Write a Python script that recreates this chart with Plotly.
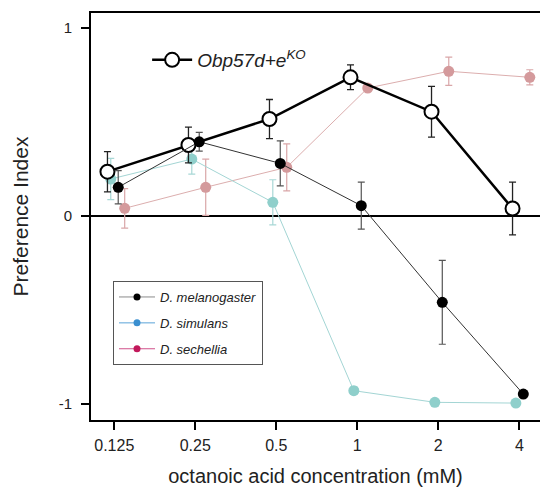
import numpy as np
import plotly.graph_objects as go

conc = [0.125, 0.25, 0.5, 1, 2, 4]
tick_labels = ["0.125", "0.25", "0.5", "1", "2", "4"]

obp = [0.236, 0.378, 0.516, 0.738, 0.555, 0.04]
obp_err = [0.107, 0.095, 0.104, 0.066, 0.135, 0.14]
mel = [0.153, 0.395, 0.28, 0.055, -0.459, -0.947]
mel_err = [0.088, 0.05, 0.12, 0.125, 0.223, 0.01]
sim = [0.197, 0.303, 0.073, -0.929, -0.991, -0.995]
sim_err = [0.11, 0.08, 0.12, 0.02, 0.01, 0.01]
sech = [0.041, 0.153, 0.259, 0.681, 0.77, 0.738]
sech_err = [0.105, 0.15, 0.125, 0.01, 0.075, 0.04]

lx = np.log2(conc)
FONT = "Liberation Sans, Arial, sans-serif"

def xs(off):
    return lx + off

fig = go.Figure()

fig.add_trace(go.Scatter(
    x=xs(0.129), y=sech, mode="lines+markers", showlegend=False,
    line=dict(color="#dcaeae", width=1),
    marker=dict(color="#d49a9c", size=11),
    error_y=dict(type="data", array=sech_err, color="#d9a6a8", thickness=1.2, width=3.5)))
fig.add_trace(go.Scatter(
    x=xs(-0.043), y=sim, mode="lines+markers", showlegend=False,
    line=dict(color="#a3d5d4", width=1),
    marker=dict(color="#8fcfcb", size=11),
    error_y=dict(type="data", array=sim_err, color="#a8d8d6", thickness=1.2, width=3.5)))
fig.add_trace(go.Scatter(
    x=xs(-0.084), y=obp, mode="lines+markers", name="<i>Obp57d+e</i><sup><i>KO</i></sup>",
    legend="legend2",
    line=dict(color="black", width=2.5),
    marker=dict(color="white", size=14, line=dict(color="black", width=2)),
    error_y=dict(type="data", array=obp_err, color="#222", thickness=1.3, width=3.5)))
fig.add_trace(go.Scatter(
    x=xs(0.049), y=mel, mode="lines+markers", showlegend=False,
    line=dict(color="#333", width=1),
    marker=dict(color="black", size=11),
    error_y=dict(type="data", array=mel_err, color="#555", thickness=1.2, width=3.5)))

for i, (name, lc, mc) in enumerate([("D. melanogaster", "#8a8a8a", "black"),
                                    ("D. simulans", "#5aa3d8", "#3a8fd0"),
                                    ("D. sechellia", "#d0508a", "#c2185b")]):
    fig.add_trace(go.Scatter(x=[None], y=[None], mode="lines+markers",
                             name="<i>" + name + "</i>", legend="legend",
                             legendgroup="g%d" % i,
                             line=dict(color=lc, width=1),
                             marker=dict(color=mc, size=7)))

fig.update_layout(
    width=540, height=487,
    margin=dict(l=91, r=0, t=13, b=67, autoexpand=False),
    paper_bgcolor="white", plot_bgcolor="white",
    font=dict(family=FONT, color="#222"),
    legend=dict(x=0.049, y=0.3415, xanchor="left", yanchor="top",
                bordercolor="#555", borderwidth=1, bgcolor="white",
                font=dict(size=13, color="#222"), tracegroupgap=6,
                itemwidth=36),
    legend2=dict(x=0.125, y=0.8845, xanchor="left", yanchor="middle",
                 borderwidth=0, bgcolor="rgba(0,0,0,0)", itemwidth=40,
                 font=dict(size=19, color="#222")),
)

fig.update_xaxes(
    range=[-3.287, 2.255], tickvals=lx, ticktext=tick_labels, automargin=False,
    ticks="outside", ticklen=8, tickwidth=2, tickcolor="black",
    showline=True, linecolor="black", linewidth=2, mirror=True,
    showgrid=False, zeroline=False,
    tickfont=dict(size=16, color="#222"), ticklabelstandoff=2,
    title=dict(text="octanoic acid concentration (mM)", font=dict(size=20, color="#222"), standoff=16),
)
fig.update_yaxes(
    range=[-1.085, 1.08], tickvals=[-1, 0, 1], ticktext=["-1", "0", "1"], automargin=False,
    ticks="outside", ticklen=8, tickwidth=2, tickcolor="black",
    showline=True, linecolor="black", linewidth=2,
    showgrid=False, zeroline=True, zerolinecolor="black", zerolinewidth=2,
    tickfont=dict(size=15, color="#222"), ticklabelstandoff=6,
    title=dict(text="Preference Index", font=dict(size=21, color="#222"), standoff=24),
)

fig.write_html("out.html", config={"displayModeBar": False},
               post_script="document.body.style.margin='0';document.body.style.overflow='hidden';")
